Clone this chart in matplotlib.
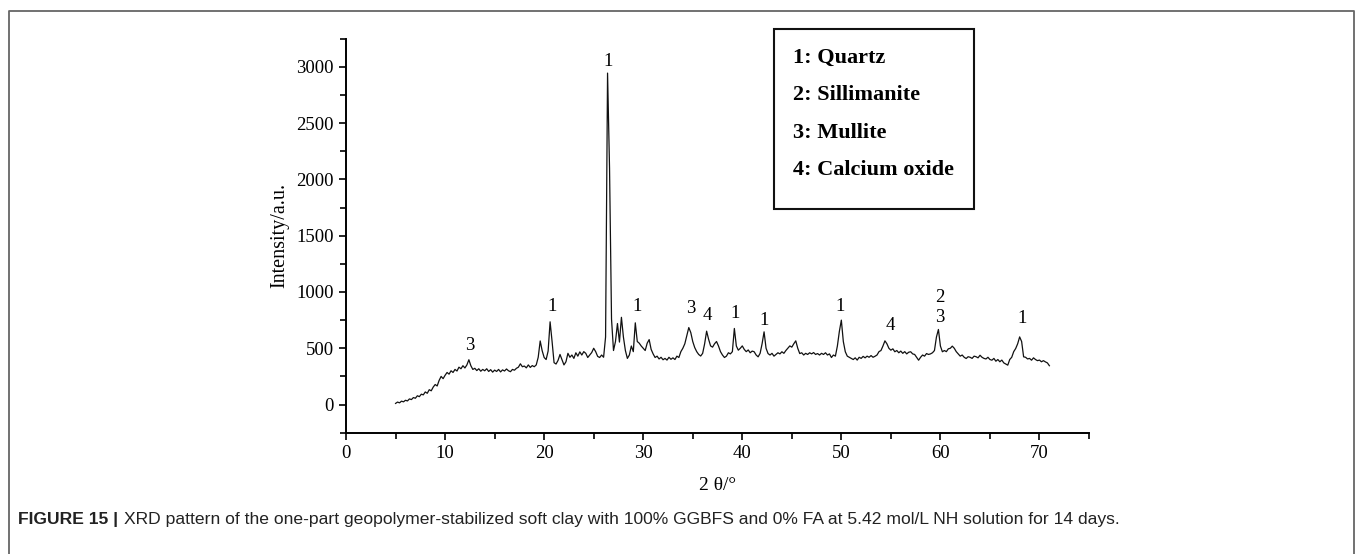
import numpy as np
from matplotlib import pyplot as plt
from matplotlib.patches import Rectangle
from matplotlib.lines import Line2D

two_theta = np.round(np.arange(5.0, 71.01, 0.2), 1)
intensity = [
    10, 22, 15, 30, 24,
    38, 32, 50, 44, 62,
    56, 78, 70, 92, 86,
    112, 100, 132, 122, 155,
    178, 165, 215, 250, 230,
    260, 285, 270, 300, 285,
    312, 298, 332, 318, 345,
    325, 352, 398, 345, 312,
    322, 302, 318, 296, 312,
    300, 318, 294, 310, 288,
    306, 294, 312, 290, 308,
    298, 316, 300, 292, 312,
    305, 322, 332, 362, 336,
    342, 326, 352, 330, 346,
    336, 352, 420, 565, 478,
    418, 400, 475, 735, 560,
    372, 360, 392, 445, 398,
    352, 380, 455, 420, 440,
    410, 460, 430, 468, 440,
    470, 455, 418, 440, 462,
    500, 470, 428, 418, 440,
    420, 600, 2945, 2100, 760,
    480, 560, 720, 555, 775,
    600, 480, 410, 440, 520,
    470, 726, 560, 545, 520,
    500, 480, 545, 577, 490,
    450, 418, 430, 405, 420,
    398, 410, 395, 420, 402,
    415, 400, 430, 418, 470,
    500, 540, 610, 684, 640,
    560, 506, 470, 445, 431,
    455, 540, 652, 580, 521,
    510, 540, 560, 520, 470,
    440, 418, 430, 460, 450,
    470, 676, 520, 483, 500,
    521, 490, 470, 485, 460,
    475, 469, 440, 424, 455,
    540, 646, 500, 453, 440,
    455, 430, 445, 460, 450,
    469, 455, 480, 500, 521,
    510, 540, 566, 500, 453,
    460, 440, 455, 445, 460,
    450, 462, 445, 453, 440,
    455, 445, 460, 440, 450,
    418, 440, 430, 520, 650,
    750, 560, 469, 430, 420,
    410, 400, 415, 395, 420,
    410, 428, 415, 430, 420,
    435, 420, 429, 440, 470,
    480, 520, 566, 540, 500,
    483, 495, 469, 480, 460,
    475, 455, 470, 450, 465,
    469, 450, 445, 420, 394,
    420, 440, 430, 453, 445,
    450, 460, 480, 600, 667,
    520, 469, 480, 470, 495,
    500, 519, 500, 470, 450,
    430, 440, 420, 409, 425,
    420, 410, 430, 425, 415,
    438, 420, 410, 405, 420,
    400, 394, 410, 385, 400,
    380, 395, 370, 360, 350,
    400, 420, 470, 498, 540,
    601, 560, 424, 420, 405,
    410, 394, 415, 400, 390,
    395, 380, 390, 379, 370,
    345,
]

# peak labels (phase number, 2theta, height of label)
peak_labels = ['3', '1', '1', '1', '3', '4', '1', '1', '1', '4', '2\n3', '1']
peak_x = [12.5, 20.8, 26.5, 29.4, 34.8, 36.5, 39.3, 42.2, 49.9, 54.9, 59.9, 68.2]
peak_y = [527, 868, 3048, 875, 854, 795, 810, 750, 868, 705, 860, 765]

phases = ['1: Quartz', '2: Sillimanite', '3: Mullite', '4: Calcium oxide']

caption_bold = 'FIGURE 15 |'
caption_rest = ('XRD pattern of the one-part geopolymer-stabilized soft clay with 100% GGBFS '
                'and 0% FA at 5.42 mol/L NH solution for 14 days.')

serif = ['Liberation Serif', 'DejaVu Serif']
plt.rcParams['font.family'] = serif

fig = plt.figure(figsize=(13.57, 5.54), dpi=100)
ax = fig.add_axes([0.255, 0.219, 0.5475, 0.711])

ax.plot(two_theta, intensity, color='#111111', lw=0.9)

for lab, x, y in zip(peak_labels, peak_x, peak_y):
    ax.text(x, y, lab, ha='center', va='center', fontsize=13.5, linespacing=1.25)

ax.set_xlim(0, 75)
ax.set_ylim(-250, 3250)
ax.set_xticks(range(0, 71, 10))
ax.set_xticks(range(5, 76, 10), minor=True)
ax.set_yticks(range(0, 3001, 500))
ax.set_yticks(range(-250, 3251, 250), minor=True)

for s in ['top', 'right']:
    ax.spines[s].set_visible(False)
for s in ['left', 'bottom']:
    ax.spines[s].set_linewidth(1.4)
ax.tick_params(which='major', length=5, width=1.2, labelsize=13.5, pad=4)
ax.tick_params(which='minor', length=4, width=1.2)

ax.set_ylabel('Intensity/a.u.', fontsize=14.5, labelpad=5)
ax.set_xlabel('2 θ/°', fontsize=14, labelpad=11)

# legend box with phase names
fig.patches.append(Rectangle((0.5704, 0.6227), 0.1474, 0.3249, transform=fig.transFigure,
                             fill=False, lw=1.5, edgecolor='#111111'))
for i, p in enumerate(phases):
    fig.text(0.5844, [0.8953, 0.8285, 0.7599, 0.6931][i], p, fontsize=16,
             fontweight='bold', va='center', ha='left')

# outer frame (open at bottom)
frame_x = [0.0066, 0.0066, 0.9978, 0.9978]
frame_y = [-0.01, 0.980, 0.980, -0.01]
fig.add_artist(Line2D(frame_x, frame_y, transform=fig.transFigure, color='#666666', lw=1.3))

# caption
sans = ['Liberation Sans', 'DejaVu Sans']
t1 = fig.text(0.0133, 0.062, caption_bold, fontsize=12.6, fontweight='bold',
              family=sans, va='center', color='#222222')
ax.annotate(caption_rest, xy=(1, 0.5), xycoords=t1, xytext=(4, 0), textcoords='offset points',
            fontsize=12.6, family=sans, va='center', color='#222222', annotation_clip=False)

fig.savefig('out.png', dpi=100)
